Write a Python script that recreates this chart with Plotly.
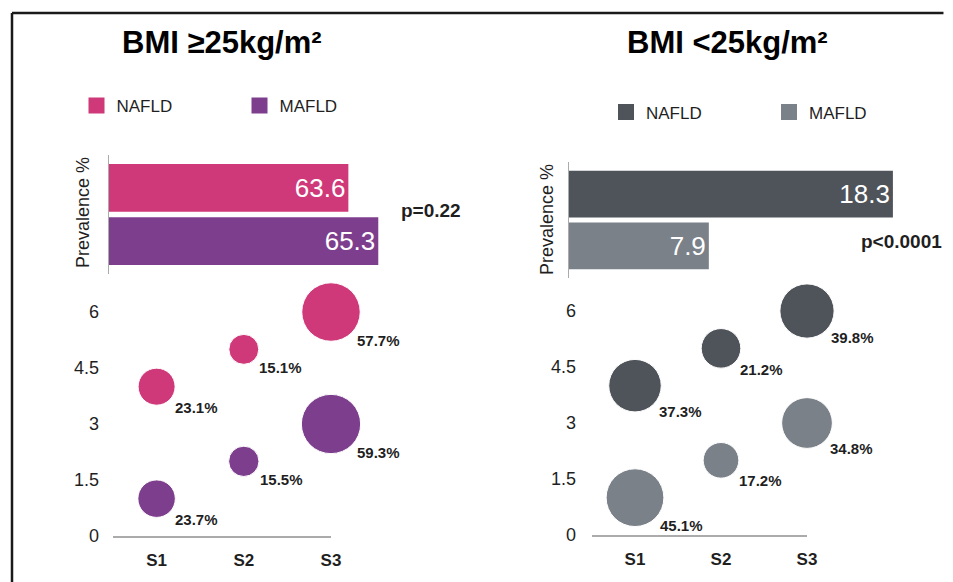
import math
import plotly.graph_objects as go

W, H = 953, 582

# ---------------- data ----------------
titles = ["BMI ≥25kg/m²", "BMI <25kg/m²"]
groups = ["NAFLD", "MAFLD"]
stages = ["S1", "S2", "S3"]
y_ticks = [0, 1.5, 3, 4.5, 6]

# BMI >= 25
high_prevalence = [63.6, 65.3]
high_p = "p=0.22"
high_nafld_stage_pct = [23.1, 15.1, 57.7]
high_mafld_stage_pct = [23.7, 15.5, 59.3]

# BMI < 25
low_prevalence = [18.3, 7.9]
low_p = "p<0.0001"
low_nafld_stage_pct = [37.3, 21.2, 39.8]
low_mafld_stage_pct = [45.1, 17.2, 34.8]

# vertical bubble positions on the 0-6 scale
nafld_level = [4, 5, 6]
mafld_level = [1, 2, 3]

# ---------------- style ----------------
PINK, PURPLE = "#CF3979", "#7E3E8E"
DARK, LIGHT = "#4F535A", "#7B8189"
TXT = "#1f1f1f"
AXLINE = "#ABABAB"
FONT = "Liberation Sans, Arial, sans-serif"


def px(x):
    return x / W


def py(y):
    return 1 - y / H


fig = go.Figure()

# ---- prevalence bars ----
fig.add_trace(go.Bar(
    x=high_prevalence, y=groups, orientation="h",
    marker=dict(color=[PINK, PURPLE], line=dict(width=0)),
    texttemplate="%{x:.1f}", textposition="inside", insidetextanchor="end",
    textfont=dict(color="white", size=26, family=FONT), constraintext="none",
    xaxis="x", yaxis="y", showlegend=False, hoverinfo="x+y"))
fig.add_trace(go.Bar(
    x=low_prevalence, y=groups, orientation="h",
    marker=dict(color=[DARK, LIGHT], line=dict(width=0)),
    texttemplate="%{x:.1f}", textposition="inside", insidetextanchor="end",
    textfont=dict(color="white", size=26, family=FONT), constraintext="none",
    xaxis="x2", yaxis="y2", showlegend=False, hoverinfo="x+y"))

# ---- stage bubbles ----
REF_HIGH = 2 / 7.7 ** 2
REF_LOW = 2 / 8.6 ** 2

bubble_sets = [
    (high_nafld_stage_pct, nafld_level, PINK, "x3", "y3", REF_HIGH, "NAFLD", "legend"),
    (high_mafld_stage_pct, mafld_level, PURPLE, "x3", "y3", REF_HIGH, "MAFLD", "legend"),
    (low_nafld_stage_pct, nafld_level, DARK, "x4", "y4", REF_LOW, "NAFLD", "legend2"),
    (low_mafld_stage_pct, mafld_level, LIGHT, "x4", "y4", REF_LOW, "MAFLD", "legend2"),
]

annotations = []
for vals, lev, col, xa, ya, ref, name, leg in bubble_sets:
    fig.add_trace(go.Scatter(
        x=stages, y=lev, mode="markers", cliponaxis=False,
        marker=dict(size=vals, sizemode="area", sizeref=ref, color=col,
                    line=dict(color="white", width=1), opacity=1),
        xaxis=xa, yaxis=ya, showlegend=False, name=name,
        customdata=vals, hovertemplate="%{x}: %{customdata}%<extra>" + name + "</extra>"))
    # legend entry (square swatch)
    fig.add_trace(go.Scatter(
        x=[None], y=[None], mode="markers", name=name,
        marker=dict(symbol="square", size=16, color=col),
        xaxis=xa, yaxis=ya, legend=leg, showlegend=True))
    for s, l, v in zip(stages, lev, vals):
        r = math.sqrt(2 * v / ref) / 2
        d = 0.707 * r + 3
        annotations.append(dict(
            x=s, y=l, xref=xa, yref=ya, text=f"{v}%", showarrow=False,
            xanchor="left", yanchor="top", xshift=d, yshift=-(d - 6),
            font=dict(size=15, color=TXT, family=FONT, weight="bold")))

# ---- titles / labels ----
for t, cx in zip(titles, [222, 727]):
    annotations.append(dict(x=px(cx), y=py(43), xref="paper", yref="paper", text=t,
                            showarrow=False, xanchor="center", yanchor="middle",
                            font=dict(size=31, color="black", family=FONT, weight="bold")))
for cx, cy in [(83, 213), (547, 220)]:
    annotations.append(dict(x=px(cx), y=py(cy), xref="paper", yref="paper",
                            text="Prevalence %", textangle=-90, showarrow=False,
                            xanchor="center", yanchor="middle",
                            font=dict(size=18, color=TXT, family=FONT)))
for t, cx, cy in [(high_p, 431, 210), (low_p, 901, 241)]:
    annotations.append(dict(x=px(cx), y=py(cy), xref="paper", yref="paper", text=t,
                            showarrow=False, xanchor="center", yanchor="middle",
                            font=dict(size=19, color=TXT, family=FONT, weight="bold")))

hidden = dict(visible=False, showgrid=False, zeroline=False, fixedrange=True,
              automargin=False)

bar_y_common = dict(type="category", categoryorder="array", categoryarray=groups,
                    range=[1.62, -0.62], showline=True, linecolor=AXLINE, linewidth=1,
                    showticklabels=False, ticks="", showgrid=False, zeroline=False,
                    automargin=False)

bub_x_common = dict(type="category", categoryorder="array", categoryarray=stages,
                    range=[-0.5, 2.0], showline=True, linecolor=AXLINE, linewidth=1.5,
                    ticks="", showgrid=False, zeroline=False, ticklabelstandoff=8,
                    automargin=False,
                    tickfont=dict(size=17, color=TXT, family=FONT, weight="bold"))
bub_y_common = dict(range=[0, 6.5], tickvals=y_ticks, showline=False, showgrid=False,
                    zeroline=False, ticks="", automargin=False,
                    tickfont=dict(size=18, color=TXT, family=FONT))

legend_common = dict(orientation="h", xanchor="left", yanchor="top",
                     entrywidth=118, entrywidthmode="pixels", itemsizing="trace",
                     font=dict(size=17, color=TXT, family=FONT),
                     bgcolor="rgba(0,0,0,0)")

frame = dict(color="#1a1a1a", width=2.5)

fig.update_layout(
    width=W, height=H,
    autosize=False,
    margin=dict(l=0, r=0, t=0, b=0, pad=0, autoexpand=False),
    paper_bgcolor="white", plot_bgcolor="rgba(0,0,0,0)",
    font=dict(family=FONT, color=TXT),
    bargap=0.1,
    xaxis=dict(domain=[px(109), px(400)], range=[50, 50 + 291 / 17.6], anchor="y", **hidden),
    yaxis=dict(domain=[py(274), py(155)], anchor="x", **bar_y_common),
    xaxis2=dict(domain=[px(569), px(900)], range=[0, 331 / 17.7], anchor="y2", **hidden),
    yaxis2=dict(domain=[py(278), py(162)], anchor="x2", **bar_y_common),
    xaxis3=dict(domain=[px(113), px(331)], anchor="y3", **bub_x_common),
    yaxis3=dict(domain=[py(536), py(536 - 6.5 * 37.33)], anchor="x3",
                ticklabelstandoff=13, **bub_y_common),
    xaxis4=dict(domain=[px(592), px(807)], anchor="y4", **bub_x_common),
    yaxis4=dict(domain=[py(535), py(535 - 6.5 * 37.33)], anchor="x4",
                ticklabelstandoff=15, **bub_y_common),
    legend=dict(x=px(76.5), y=py(88), **legend_common),
    legend2=dict(x=px(606), y=py(94.5), **legend_common),
    annotations=annotations,
    shapes=[
        dict(type="line", xref="paper", yref="paper",
             x0=px(12), x1=0.99, y0=py(13), y1=py(13), line=frame, layer="below"),
        dict(type="line", xref="paper", yref="paper",
             x0=px(12), x1=px(12), y0=0.0, y1=py(13), line=frame, layer="below"),
    ],
    showlegend=True,
)

fig.write_html("out.html", config={"displayModeBar": False},
               post_script="document.body.style.margin='0';document.body.style.overflow='hidden';")
